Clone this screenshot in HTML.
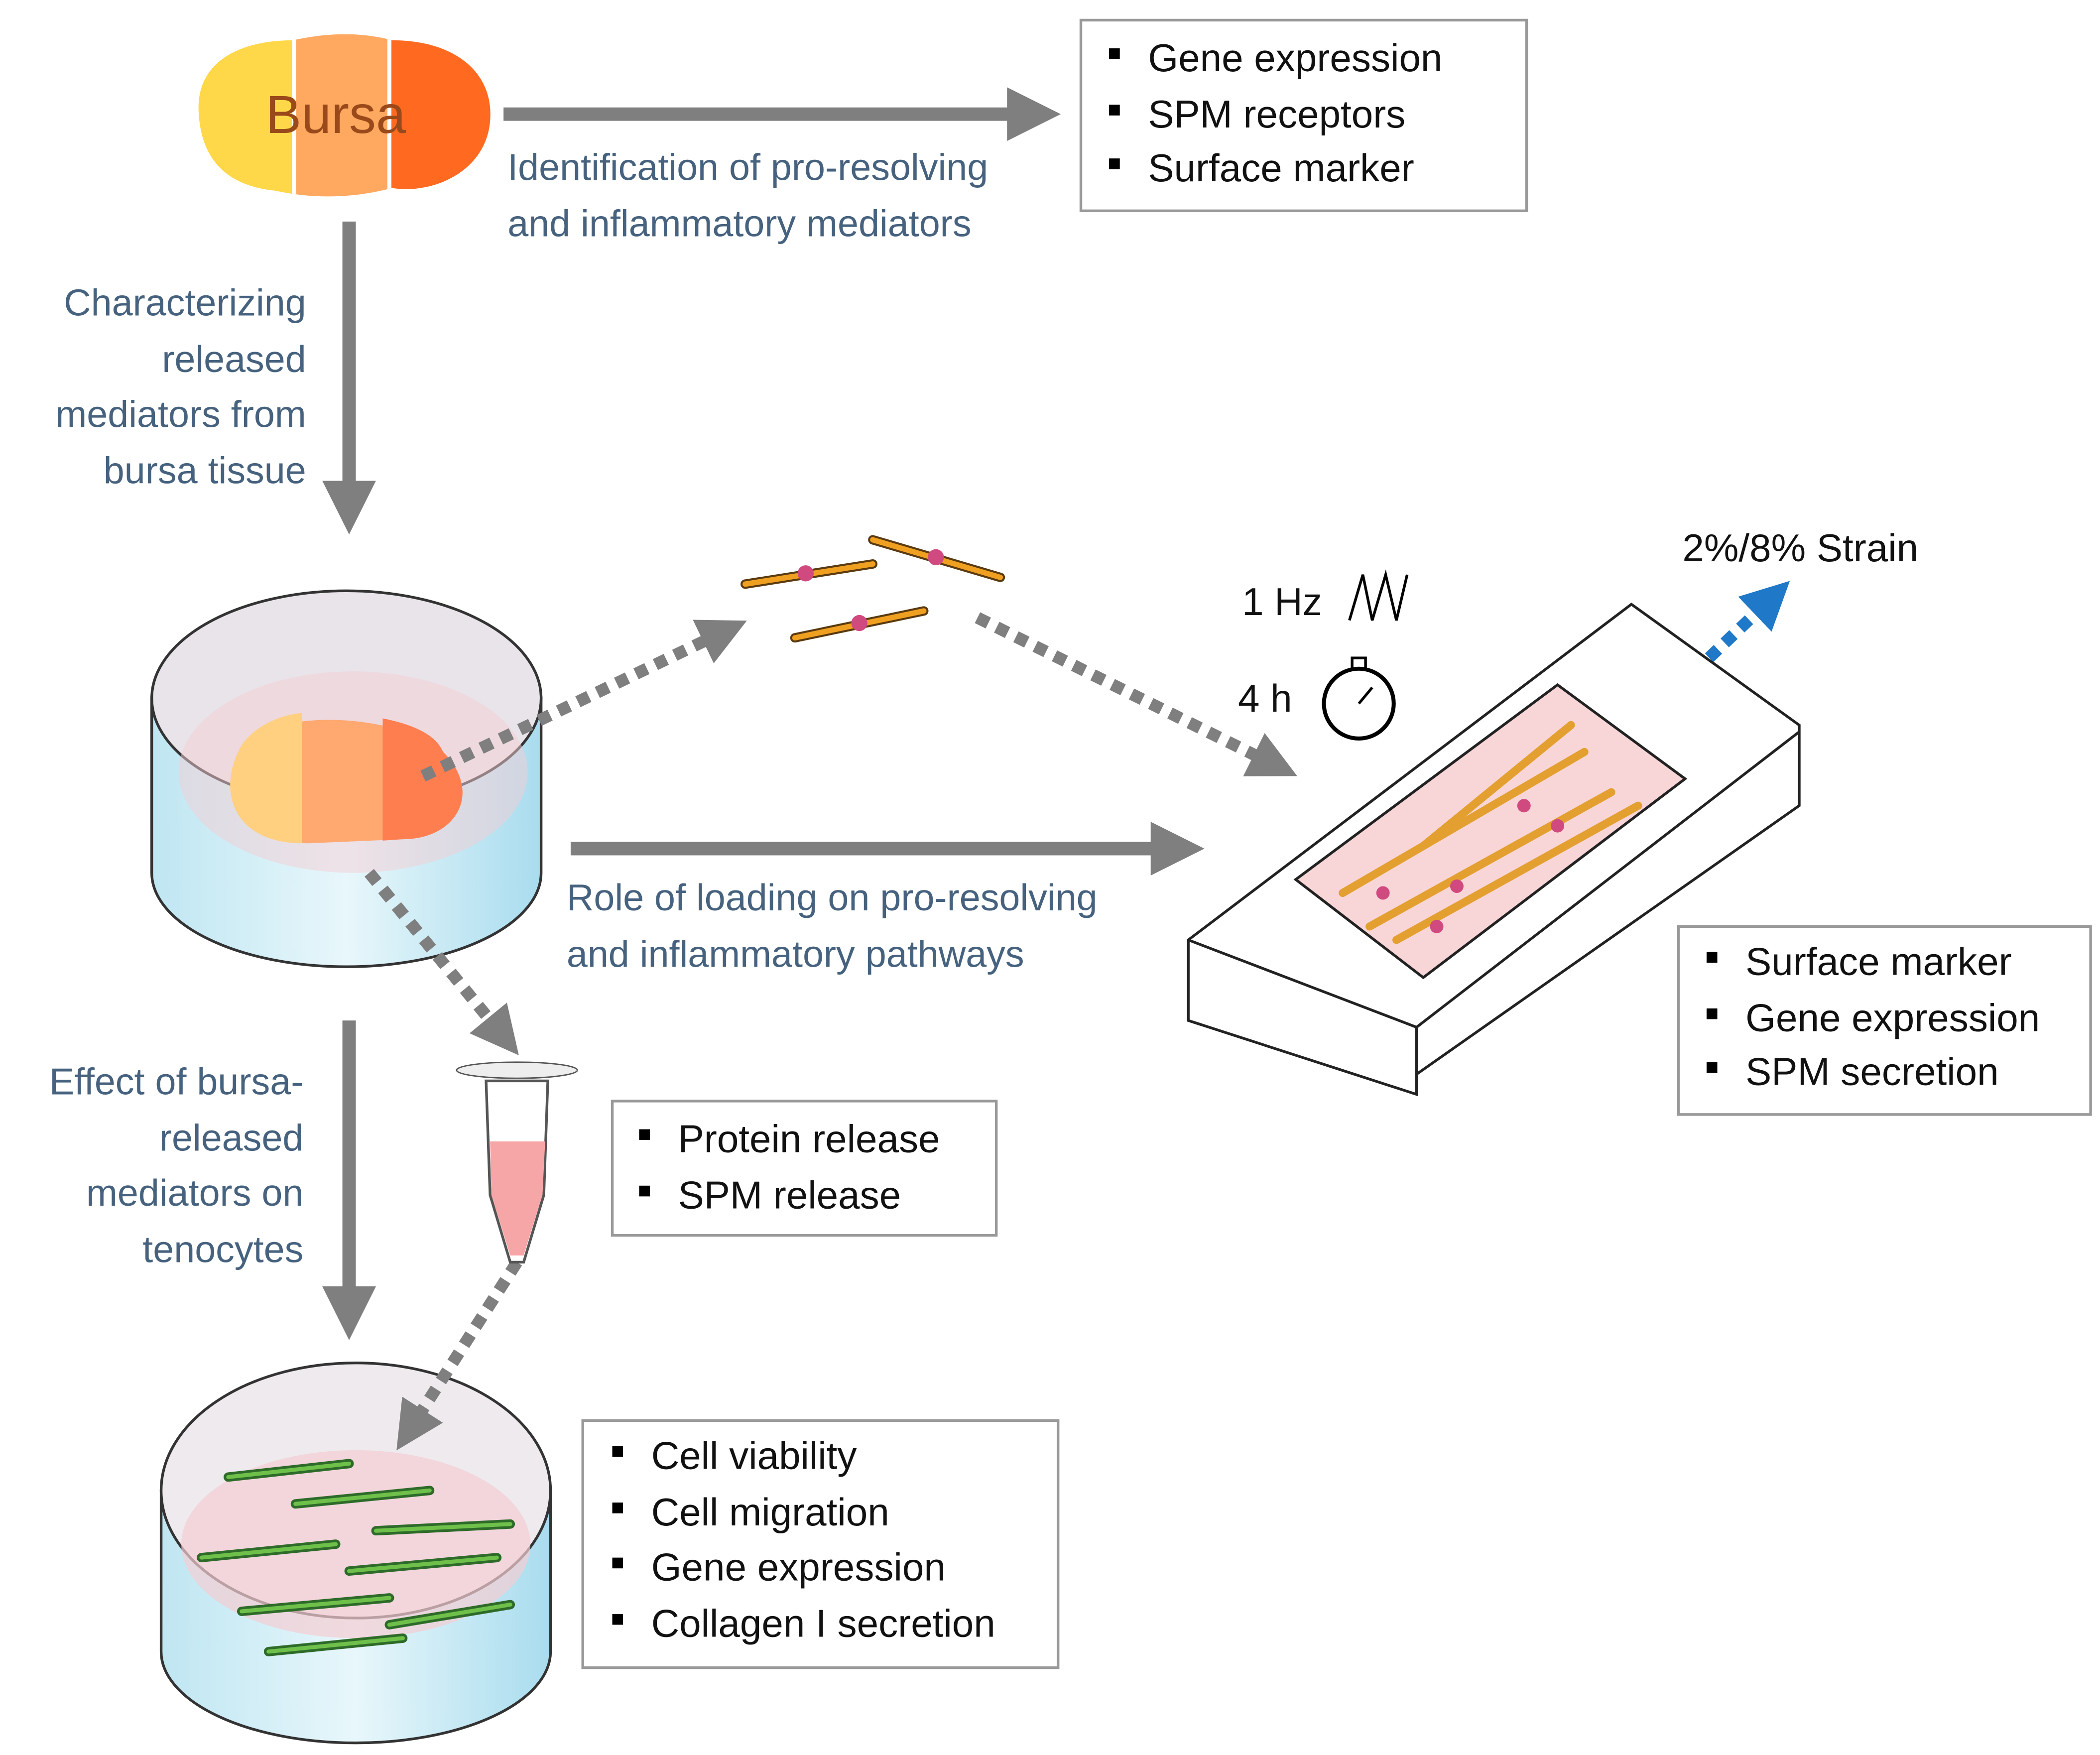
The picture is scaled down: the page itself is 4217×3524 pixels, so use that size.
<!DOCTYPE html>
<html><head><meta charset="utf-8"><style>html,body{margin:0;padding:0;background:#fff}svg{display:block}</style></head><body>
<svg width="4217" height="3524" viewBox="0 0 1564 1307" xmlns="http://www.w3.org/2000/svg" font-family="Liberation Sans, sans-serif">
<defs>
<marker id="ah" markerWidth="4" markerHeight="4" refX="2" refY="2" orient="auto" markerUnits="strokeWidth"><path d="M0,0 L4,2 L0,4 z" fill="#7f7f7f"/></marker>
<marker id="ahb" markerWidth="4" markerHeight="4" refX="2" refY="2" orient="auto" markerUnits="strokeWidth"><path d="M0,0 L4,2 L0,4 z" fill="#1f78c8"/></marker>
<linearGradient id="dish" x1="0" x2="1"><stop offset="0" stop-color="#bfe6f2"/><stop offset="0.5" stop-color="#e8f7fb"/><stop offset="1" stop-color="#a9dcee"/></linearGradient>
<clipPath id="bc"><path d="M148,85 C145,45 180,30 218,30 C245,24 270,24 292,30 C340,30 368,55 365,90 C362,128 322,145 292,140 C262,148 232,148 205,142 C165,138 150,115 148,85 Z"/></clipPath>
</defs>
<!-- Bursa -->
<g clip-path="url(#bc)"><rect x="140" y="20" width="80" height="130" fill="#ffd84a"/><rect x="220" y="20" width="70" height="130" fill="#ffa860"/><rect x="290" y="20" width="80" height="130" fill="#ff6a20"/>
<line x1="219" y1="20" x2="219" y2="150" stroke="#fff" stroke-width="3"/><line x1="290" y1="20" x2="290" y2="150" stroke="#fff" stroke-width="3"/></g>
<text x="250" y="99" font-size="40" fill="#9a4a1a" text-anchor="middle">Bursa</text>
<!-- Dish 1 -->
<path d="M113,520 L113,650 A145,70 0 0 0 403,650 L403,520 Z" fill="url(#dish)" stroke="#333" stroke-width="2"/>
<ellipse cx="258" cy="520" rx="145" ry="80" fill="#e8e4ea" stroke="#333" stroke-width="2"/>
<ellipse cx="263" cy="575" rx="130" ry="75" fill="#f3cdd3" opacity="0.5"/>
<path d="M180,555 C200,530 290,528 330,560 C360,590 340,625 300,625 L230,628 C175,628 160,590 180,555Z" fill="#ffa870"/>
<path d="M180,555 C190,540 210,532 225,531 L225,628 C175,628 160,590 180,555Z" fill="#ffd080"/>
<path d="M285,535 C310,540 325,548 330,560 C360,590 340,625 300,625 L285,626Z" fill="#ff7e50"/>
<!-- Dish 2 -->
<path d="M120,1110 L120,1230 A145,68 0 0 0 410,1230 L410,1110 Z" fill="url(#dish)" stroke="#333" stroke-width="2"/>
<ellipse cx="265" cy="1110" rx="145" ry="95" fill="#eeeaee" stroke="#333" stroke-width="2"/>
<ellipse cx="265" cy="1150" rx="130" ry="70" fill="#f3cdd3" opacity="0.7"/>
<g stroke="#2e6b2a" stroke-width="7" stroke-linecap="round" fill="none">
<path d="M170,1100 L260,1090"/><path d="M220,1120 L320,1110"/><path d="M150,1160 L250,1150"/><path d="M260,1170 L370,1160"/><path d="M180,1200 L290,1190"/><path d="M290,1210 L380,1195"/><path d="M280,1140 L380,1135"/><path d="M200,1230 L300,1220"/></g>
<g stroke="#6fc04a" stroke-width="3" stroke-linecap="round" fill="none">
<path d="M170,1100 L260,1090"/><path d="M220,1120 L320,1110"/><path d="M150,1160 L250,1150"/><path d="M260,1170 L370,1160"/><path d="M180,1200 L290,1190"/><path d="M290,1210 L380,1195"/><path d="M280,1140 L380,1135"/><path d="M200,1230 L300,1220"/></g>
<!-- arrows -->
<g stroke="#7f7f7f" stroke-width="10" fill="none">
<line x1="375" y1="85" x2="770" y2="85" marker-end="url(#ah)"/>
<line x1="260" y1="165" x2="260" y2="378" marker-end="url(#ah)"/>
<line x1="425" y1="632" x2="877" y2="632" marker-end="url(#ah)"/>
<line x1="260" y1="760" x2="260" y2="978" marker-end="url(#ah)"/>
</g>
<g stroke="#7f7f7f" stroke-width="9" fill="none" stroke-dasharray="9 7">
<line x1="315" y1="578" x2="540" y2="470" marker-end="url(#ah)"/>
<line x1="728" y1="460" x2="950" y2="570" marker-end="url(#ah)"/>
<line x1="275" y1="650" x2="375" y2="772" marker-end="url(#ah)"/>
<line x1="385" y1="940" x2="305" y2="1065" marker-end="url(#ah)"/>
</g>
<line x1="1215" y1="545" x2="1320" y2="445" stroke="#1f78c8" stroke-width="9" stroke-dasharray="9 7" marker-end="url(#ahb)"/>
<!-- labels -->
<g font-size="28" fill="#46627e">
<text x="378" y="134">Identification of pro-resolving</text>
<text x="378" y="176">and inflammatory mediators</text>
<g text-anchor="end"><text x="228" y="235">Characterizing</text><text x="228" y="277">released</text><text x="228" y="318">mediators from</text><text x="228" y="360">bursa tissue</text>
<text x="226" y="815">Effect of bursa-</text><text x="226" y="857">released</text><text x="226" y="898">mediators on</text><text x="226" y="940">tenocytes</text></g>
<text x="422" y="678">Role of loading on pro-resolving</text>
<text x="422" y="720">and inflammatory pathways</text>
</g>
<!-- boxes -->
<g fill="#fff" stroke="#999" stroke-width="2">
<rect x="805" y="15" width="332" height="142"/><rect x="1250" y="690" width="307" height="140"/>
<rect x="456" y="820" width="286" height="100"/><rect x="434" y="1058" width="354" height="184"/>
</g>
<g font-size="29" fill="#111">
<g fill="#000"><rect x="826" y="36" width="8" height="8"/><rect x="826" y="78" width="8" height="8"/><rect x="826" y="118" width="8" height="8"/>
<rect x="1271" y="709" width="8" height="8"/><rect x="1271" y="751" width="8" height="8"/><rect x="1271" y="791" width="8" height="8"/>
<rect x="476" y="841" width="8" height="8"/><rect x="476" y="883" width="8" height="8"/>
<rect x="456" y="1077" width="8" height="8"/><rect x="456" y="1119" width="8" height="8"/><rect x="456" y="1160" width="8" height="8"/><rect x="456" y="1202" width="8" height="8"/></g>
<text x="855" y="53">Gene expression</text><text x="855" y="95">SPM receptors</text><text x="855" y="135">Surface marker</text>
<text x="1300" y="726">Surface marker</text><text x="1300" y="768">Gene expression</text><text x="1300" y="808">SPM secretion</text>
<text x="505" y="858">Protein release</text><text x="505" y="900">SPM release</text>
<text x="485" y="1094">Cell viability</text><text x="485" y="1136">Cell migration</text><text x="485" y="1177">Gene expression</text><text x="485" y="1219">Collagen I secretion</text>
<text x="925" y="458">1 Hz</text><text x="922" y="530">4 h</text><text x="1253" y="418">2%/8% Strain</text>
</g>
<path d="M1005,462 L1015,428 L1022,462 L1032,428 L1040,462 L1048,428" fill="none" stroke="#000" stroke-width="2"/>
<circle cx="1012" cy="524" r="26" fill="#fff" stroke="#000" stroke-width="3"/><rect x="1007" y="490" width="10" height="8" fill="none" stroke="#000" stroke-width="2"/>
<line x1="1012" y1="524" x2="1022" y2="512" stroke="#000" stroke-width="2"/>
<!-- free cells -->
<g stroke="#5a3a10" stroke-width="7" stroke-linecap="round"><line x1="555" y1="435" x2="650" y2="420"/><line x1="650" y1="402" x2="745" y2="430"/><line x1="592" y1="475" x2="688" y2="455"/></g>
<g stroke="#f0a020" stroke-width="4" stroke-linecap="round"><line x1="555" y1="435" x2="650" y2="420"/><line x1="650" y1="402" x2="745" y2="430"/><line x1="592" y1="475" x2="688" y2="455"/></g>
<g fill="#d04a80"><circle cx="600" cy="427" r="6"/><circle cx="697" cy="415" r="6"/><circle cx="640" cy="464" r="6"/></g>
<!-- tube -->
<ellipse cx="385" cy="797" rx="45" ry="6" fill="#eee" stroke="#555"/>
<path d="M362,805 L408,805 L405,890 L390,940 L380,940 L365,890 Z" fill="#fff" stroke="#555" stroke-width="2"/>
<path d="M365,850 L406,850 L404,890 L390,935 L380,935 L366,890Z" fill="#f6a6a6"/>
<!-- bioreactor -->
<path d="M885,700 L1215,450 L1340,540 L1340,600 L1055,800 L1055,815 L885,760 Z" fill="#fff" stroke="#222" stroke-width="2"/>
<path d="M885,700 L1055,765 L1340,545" fill="none" stroke="#222" stroke-width="2"/>
<line x1="1055" y1="765" x2="1055" y2="815" stroke="#222" stroke-width="2"/>
<path d="M965,655 L1160,510 L1255,580 L1060,728 Z" fill="#f8d6d8" stroke="#222" stroke-width="2"/>
<g stroke="#e3a030" stroke-width="6" stroke-linecap="round"><line x1="1000" y1="665" x2="1180" y2="560"/><line x1="1020" y1="690" x2="1200" y2="590"/><line x1="1040" y1="700" x2="1220" y2="600"/><line x1="1060" y1="630" x2="1170" y2="540"/></g>
<g fill="#d04a80"><circle cx="1030" cy="665" r="5"/><circle cx="1085" cy="660" r="5"/><circle cx="1135" cy="600" r="5"/><circle cx="1160" cy="615" r="5"/><circle cx="1070" cy="690" r="5"/></g>
</svg>
</body></html>
